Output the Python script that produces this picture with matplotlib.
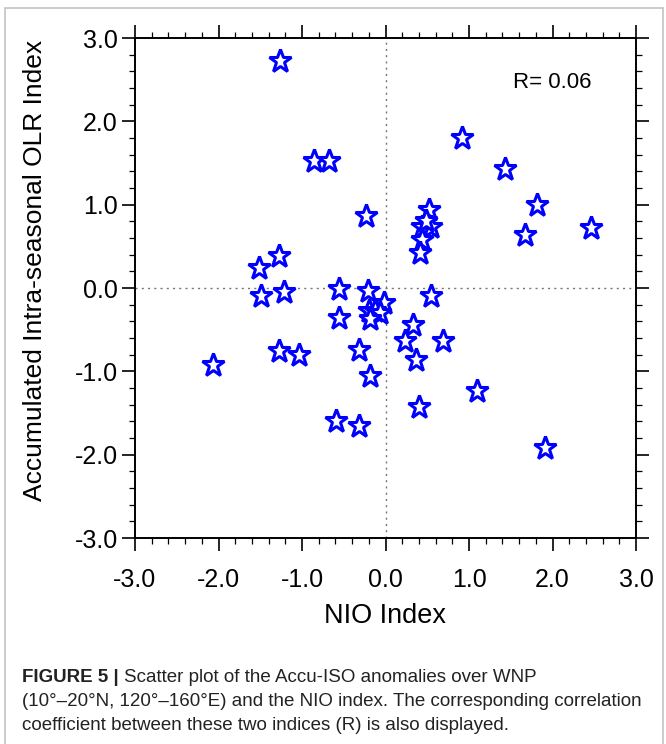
import matplotlib
matplotlib.use("Agg")
import matplotlib.pyplot as plt
from matplotlib.patches import Rectangle
from matplotlib.ticker import MultipleLocator

plt.rcParams['font.family'] = ['Liberation Sans', 'DejaVu Sans']

# NIO index (x) and Accumulated intra-seasonal OLR index (y)
nio = [-1.26, -0.86, -0.68, -0.23, -1.27, -1.52, 0.92, 1.43, 1.81, 1.67,
       2.46, 0.52, 0.44, 0.55, 0.49, 0.44, 0.41, -1.49, -1.21, -0.56,
       -0.21, -0.56, -1.28, -1.04, -2.06, -0.32, -0.18, -0.59, -0.32, 0.55,
       0.33, 0.23, 0.69, 0.37, 1.10, 0.40, 1.91, -0.02, -0.20, -0.12,
       -0.07, -0.18]
olr = [2.73, 1.53, 1.53, 0.87, 0.38, 0.24, 1.80, 1.43, 1.00, 0.64,
       0.72, 0.94, 0.73, 0.73, 0.80, 0.58, 0.42, -0.10, -0.05, -0.01,
       -0.03, -0.36, -0.76, -0.80, -0.92, -0.74, -1.05, -1.59, -1.65, -0.10,
       -0.44, -0.64, -0.64, -0.86, -1.23, -1.43, -1.92, -0.18, -0.27, -0.27,
       -0.30, -0.37]
ticks = [-3.0, -2.0, -1.0, 0.0, 1.0, 2.0, 3.0]
tick_labels = ["-3.0", "-2.0", "-1.0", "0.0", "1.0", "2.0", "3.0"]
r_text = "R= 0.06"

fig = plt.figure(figsize=(6.66, 7.44), dpi=100)
ax = fig.add_axes([135/666, 1-538/744, 501/666, 500/744])

ax.axhline(0, color='#777777', lw=1.0, ls=(0, (1.5, 3)), zorder=1)
ax.axvline(0, color='#777777', lw=1.0, ls=(0, (1.5, 3)), zorder=1)

ax.plot(nio, olr, ls='none', marker='*', markersize=17, mfc='white',
        mec='#0000ff', mew=2.2, zorder=3)

ax.set_xlim(-3, 3)
ax.set_ylim(-3, 3)
ax.set_xticks(ticks)
ax.set_xticklabels(tick_labels)
ax.set_yticks(ticks)
ax.set_yticklabels(tick_labels)
ax.xaxis.set_minor_locator(MultipleLocator(0.2))
ax.yaxis.set_minor_locator(MultipleLocator(0.2))
ax.tick_params(which='both', direction='out', top=True, right=True,
               labeltop=False, labelright=False, colors='black', width=1.2)
ax.tick_params(which='major', length=9.5)
ax.tick_params(which='minor', length=4.5, width=0.9)
ax.tick_params(axis='x', which='major', labelsize=18, pad=12)
ax.tick_params(axis='y', which='major', labelsize=18, pad=3)
for s in ax.spines.values():
    s.set_linewidth(1.4)

ax.set_xlabel("NIO Index", fontsize=19.5, labelpad=8)
ax.set_ylabel("Accumulated Intra-seasonal OLR Index", fontsize=19, va='center')
ax.yaxis.set_label_coords(-0.2, 0.535)

ax.text(1.53, 2.40, r_text, fontsize=16, ha='left', va='baseline')

# figure frame
fig.patches.append(Rectangle((5/666, -0.01), 658/666, 1 - 8/744 + 0.01,
                             transform=fig.transFigure, fill=False,
                             ec='#c4c4c4', lw=1.2))

cap_size = 13.5
cap_color = '#222222'
y1 = 1 - 682/744
t_bold = fig.text(22/666, y1, "FIGURE 5 |", fontsize=cap_size, fontweight='bold',
                  ha='left', va='baseline', color=cap_color)
fig.canvas.draw()
bb = t_bold.get_window_extent()
x_next = (bb.x1 + 5) / fig.bbox.width
fig.text(x_next, y1, "Scatter plot of the Accu-ISO anomalies over WNP",
         fontsize=cap_size, ha='left', va='baseline', color=cap_color)
fig.text(22/666, 1-706/744,
         "(10°–20°N, 120°–160°E) and the NIO index. The corresponding correlation",
         fontsize=cap_size, ha='left', va='baseline', color=cap_color)
fig.text(22/666, 1-730/744,
         "coefficient between these two indices (R) is also displayed.",
         fontsize=cap_size, ha='left', va='baseline', color=cap_color)

fig.savefig("out.png", dpi=100)
